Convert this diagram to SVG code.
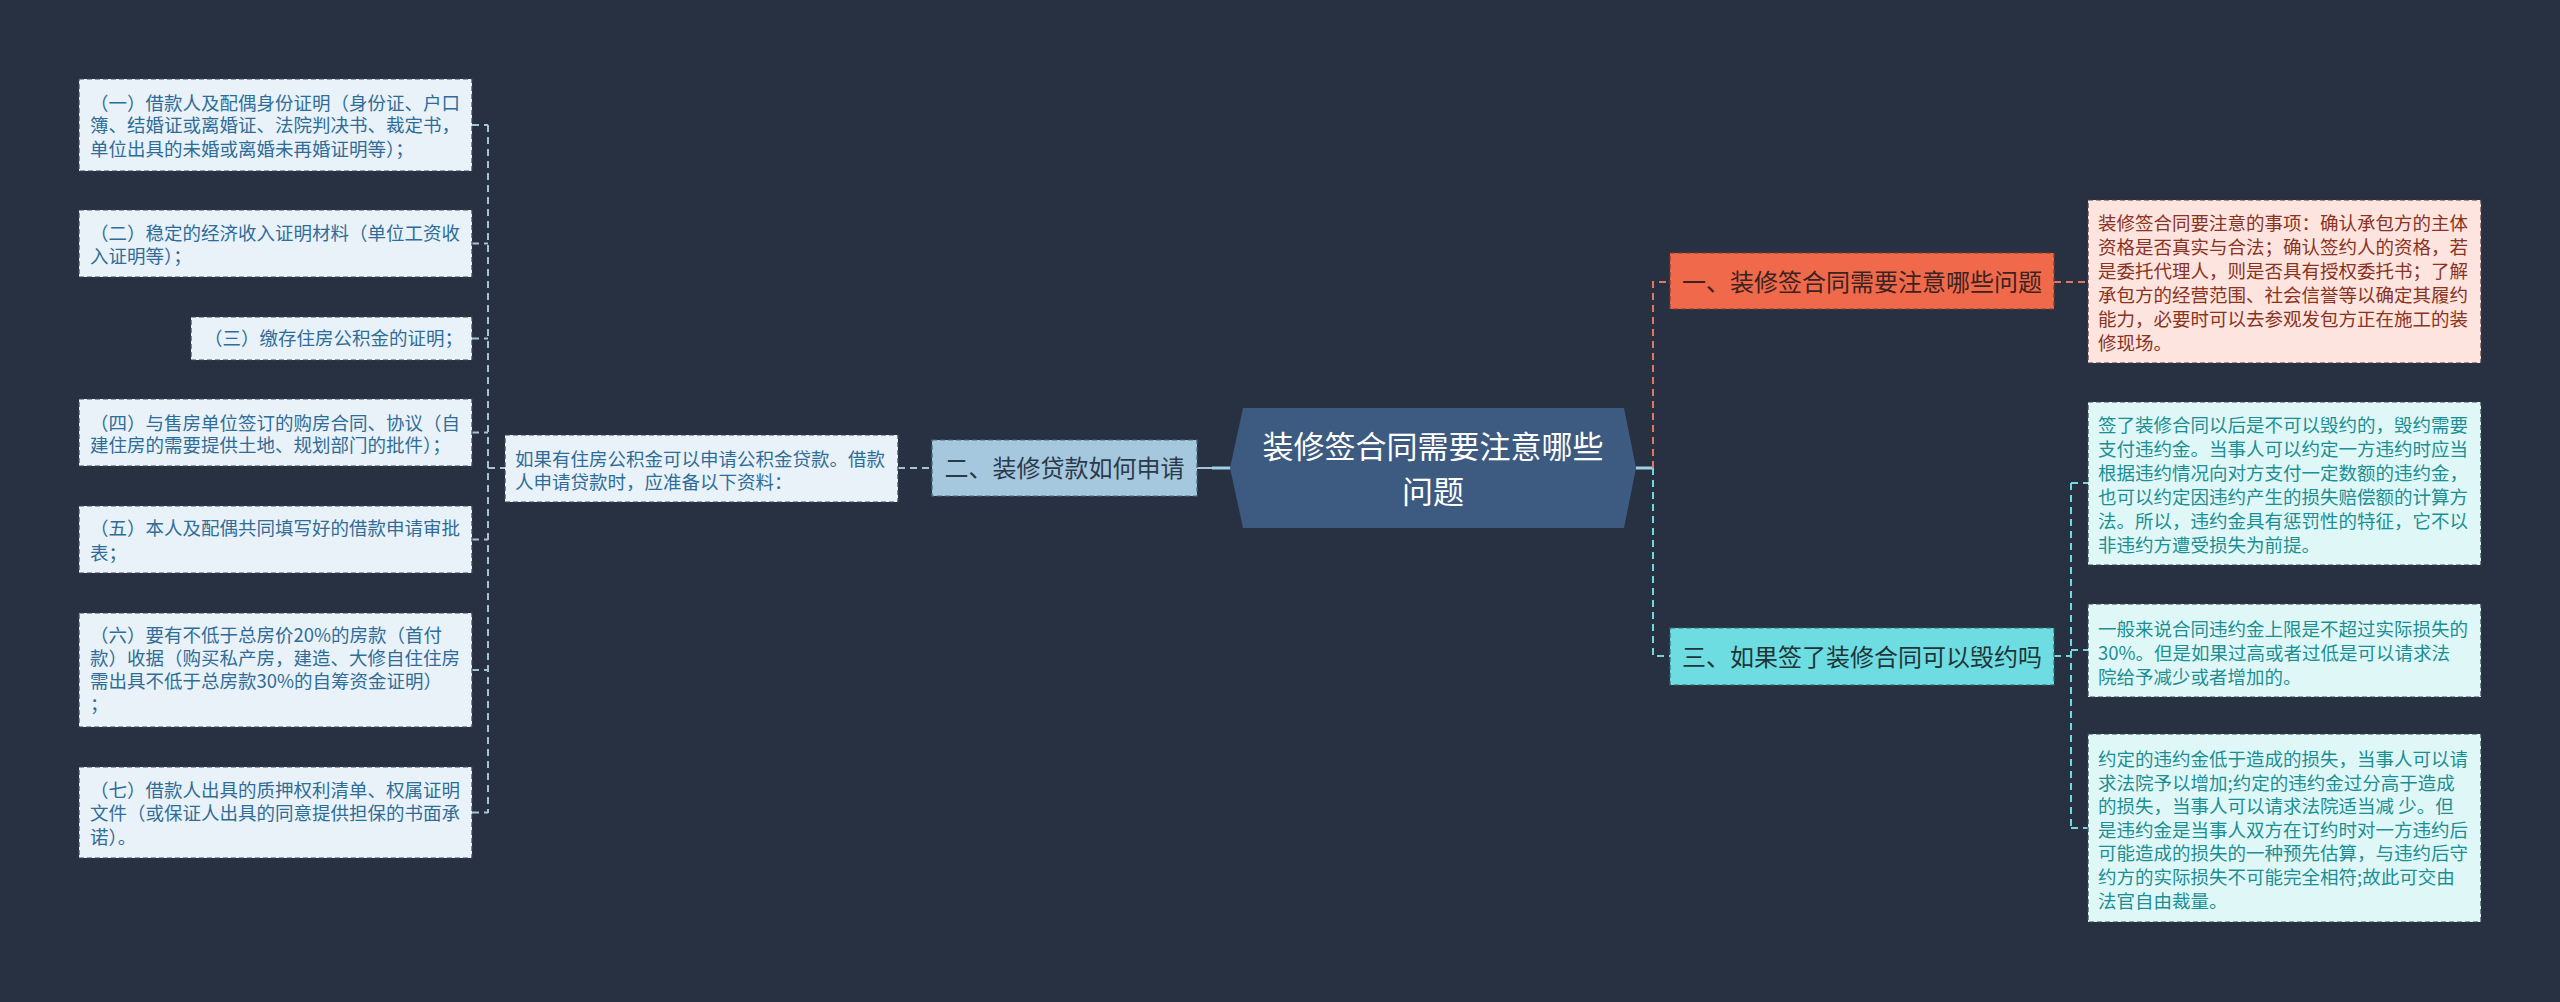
<svg xmlns="http://www.w3.org/2000/svg" width="2560" height="1002" viewBox="0 0 2560 1002">
<style>
text{font-family:"Noto Sans CJK SC","Noto Sans",sans-serif;}
.d{font-size:18.5px;}
.lb rect{fill:#e9f2f8;stroke:#3a4656;stroke-width:1.2;stroke-dasharray:5 3;}
.lb text{fill:#2f6d98;}
.pk rect{fill:#fde4df;stroke:#4a3a3a;stroke-width:1.2;stroke-dasharray:5 3;}
.pk text{fill:#8a3322;}
.cy rect{fill:#e0f7f8;stroke:#34464c;stroke-width:1.2;stroke-dasharray:5 3;}
.cy text{fill:#1b8f93;}
.n{font-size:24px;}
.conn path{fill:none;stroke-width:2;stroke-dasharray:7 5;}
.cb{stroke:#a9c3d6;}
.co{stroke:#e5765e;}
.cc{stroke:#72d9e0;}
</style>
<rect x="0" y="0" width="2560" height="1002" fill="#283141"/>

<g id="connectors" class="conn">
  <path class="cb" d="M1197 468 H1212" style="stroke-dasharray:none"/>
  <path class="cb" d="M1212 468 H1232" style="stroke-dasharray:none;stroke:#9fd0e6;stroke-width:3"/>
  <path class="cb" d="M898 468 H932"/>
  <path class="cb" d="M488 468 H505"/>
  <path class="cb" d="M488 125 V813"/>
  <path class="cb" d="M472 125 H488 M472 243.5 H488 M472 338.5 H488 M472 432.5 H488 M472 539.5 H488 M472 670 H488 M472 812.5 H488"/>
  <path class="cc" d="M1636 468 H1653" style="stroke-dasharray:none;stroke:#9fd0e6;stroke-width:3"/>
  <path class="co" d="M1653 468 V282 H1670"/>
  <path class="cc" d="M1653 468 V656 H1670"/>
  <path class="co" d="M2054 282 H2088"/>
  <path class="cc" d="M2054 656 H2071 M2071 483 V828 M2071 483 H2088 M2071 650 H2088 M2071 828 H2088"/>
</g>

<g id="root">
  <polygon points="1230,468 1243,408 1624,408 1636,468 1624,528 1243,528" fill="#3d5a80"/>
  <text x="1433" y="458" font-size="31" fill="#ffffff" text-anchor="middle">装修签合同需要注意哪些</text>
  <text x="1433" y="503" font-size="31" fill="#ffffff" text-anchor="middle">问题</text>
</g>

<g id="node-1">
  <rect x="1670" y="253" width="384" height="56" fill="#f0694b" stroke="#8a3a2a" stroke-width="1.2" stroke-dasharray="5 3"/>
  <text class="n" x="1862" y="290.5" fill="#3b2320" text-anchor="middle">一、装修签合同需要注意哪些问题</text>
</g>

<g id="node-2">
  <rect x="932" y="440" width="265" height="56" fill="#a6c8df" stroke="#4a6a80" stroke-width="1.2" stroke-dasharray="5 3"/>
  <text class="n" x="1064.5" y="476.5" fill="#2b3a4a" text-anchor="middle">二、装修贷款如何申请</text>
</g>

<g id="node-3">
  <rect x="1670" y="628" width="384" height="57" fill="#6edde2" stroke="#2d6a70" stroke-width="1.2" stroke-dasharray="5 3"/>
  <text class="n" x="1862" y="665.5" fill="#1f3538" text-anchor="middle">三、如果签了装修合同可以毁约吗</text>
</g>

<g id="detail-1" class="pk d">
  <rect x="2088" y="200" width="393" height="163"/>
  <text x="2098" y="229.5">装修签合同要注意的事项：确认承包方的主体</text>
  <text x="2098" y="253.5">资格是否真实与合法；确认签约人的资格，若</text>
  <text x="2098" y="277.5">是委托代理人，则是否具有授权委托书；了解</text>
  <text x="2098" y="301.5">承包方的经营范围、社会信誉等以确定其履约</text>
  <text x="2098" y="325.5">能力，必要时可以去参观发包方正在施工的装</text>
  <text x="2098" y="349.5">修现场。</text>
</g>

<g id="detail-3a" class="cy d">
  <rect x="2088" y="402" width="393" height="163"/>
  <text x="2098" y="431.5">签了装修合同以后是不可以毁约的，毁约需要</text>
  <text x="2098" y="455.5">支付违约金。当事人可以约定一方违约时应当</text>
  <text x="2098" y="479.5">根据违约情况向对方支付一定数额的违约金，</text>
  <text x="2098" y="503.5">也可以约定因违约产生的损失赔偿额的计算方</text>
  <text x="2098" y="527.5">法。所以，违约金具有惩罚性的特征，它不以</text>
  <text x="2098" y="551.5">非违约方遭受损失为前提。</text>
</g>

<g id="detail-3b" class="cy d">
  <rect x="2088" y="604" width="393" height="93"/>
  <text x="2098" y="635.5">一般来说合同违约金上限是不超过实际损失的</text>
  <text x="2098" y="659.5">30%。但是如果过高或者过低是可以请求法</text>
  <text x="2098" y="683.5">院给予减少或者增加的。</text>
</g>

<g id="detail-3c" class="cy d">
  <rect x="2088" y="734" width="393" height="188"/>
  <text x="2098" y="765.5">约定的违约金低于造成的损失，当事人可以请</text>
  <text x="2098" y="789.5">求法院予以增加;约定的违约金过分高于造成</text>
  <text x="2098" y="813">的损失，当事人可以请求法院适当减 少。但</text>
  <text x="2098" y="836.5">是违约金是当事人双方在订约时对一方违约后</text>
  <text x="2098" y="860">可能造成的损失的一种预先估算，与违约后守</text>
  <text x="2098" y="883.5">约方的实际损失不可能完全相符;故此可交由</text>
  <text x="2098" y="907.5">法官自由裁量。</text>
</g>

<g id="detail-2" class="lb d">
  <rect x="505" y="435" width="393" height="67"/>
  <text x="515" y="465.5">如果有住房公积金可以申请公积金贷款。借款</text>
  <text x="515" y="488.5">人申请贷款时，应准备以下资料：</text>
</g>

<g id="item-1" class="lb d">
  <rect x="79" y="79" width="393" height="92"/>
  <text x="90" y="109.5">（一）借款人及配偶身份证明（身份证、户口</text>
  <text x="90" y="132">簿、结婚证或离婚证、法院判决书、裁定书，</text>
  <text x="90" y="155.5">单位出具的未婚或离婚未再婚证明等）；</text>
</g>

<g id="item-2" class="lb d">
  <rect x="79" y="210" width="393" height="67"/>
  <text x="90" y="240">（二）稳定的经济收入证明材料（单位工资收</text>
  <text x="90" y="263">入证明等）；</text>
</g>

<g id="item-3" class="lb d">
  <rect x="191" y="317" width="281" height="43"/>
  <text x="204" y="345">（三）缴存住房公积金的证明；</text>
</g>

<g id="item-4" class="lb d">
  <rect x="79" y="399" width="393" height="67"/>
  <text x="90" y="429.5">（四）与售房单位签订的购房合同、协议（自</text>
  <text x="90" y="452">建住房的需要提供土地、规划部门的批件）；</text>
</g>

<g id="item-5" class="lb d">
  <rect x="79" y="506" width="393" height="67"/>
  <text x="90" y="535">（五）本人及配偶共同填写好的借款申请审批</text>
  <text x="90" y="559.5">表；</text>
</g>

<g id="item-6" class="lb d">
  <rect x="79" y="613" width="393" height="114"/>
  <text x="90" y="641.5">（六）要有不低于总房价20%的房款（首付</text>
  <text x="90" y="664.5">款）收据（购买私产房，建造、大修自住住房</text>
  <text x="90" y="688">需出具不低于总房款30%的自筹资金证明）</text>
  <text x="90" y="711">；</text>
</g>

<g id="item-7" class="lb d">
  <rect x="79" y="767" width="393" height="91"/>
  <text x="90" y="796.5">（七）借款人出具的质押权利清单、权属证明</text>
  <text x="90" y="819.5">文件（或保证人出具的同意提供担保的书面承</text>
  <text x="90" y="843.5">诺）。</text>
</g>
</svg>
